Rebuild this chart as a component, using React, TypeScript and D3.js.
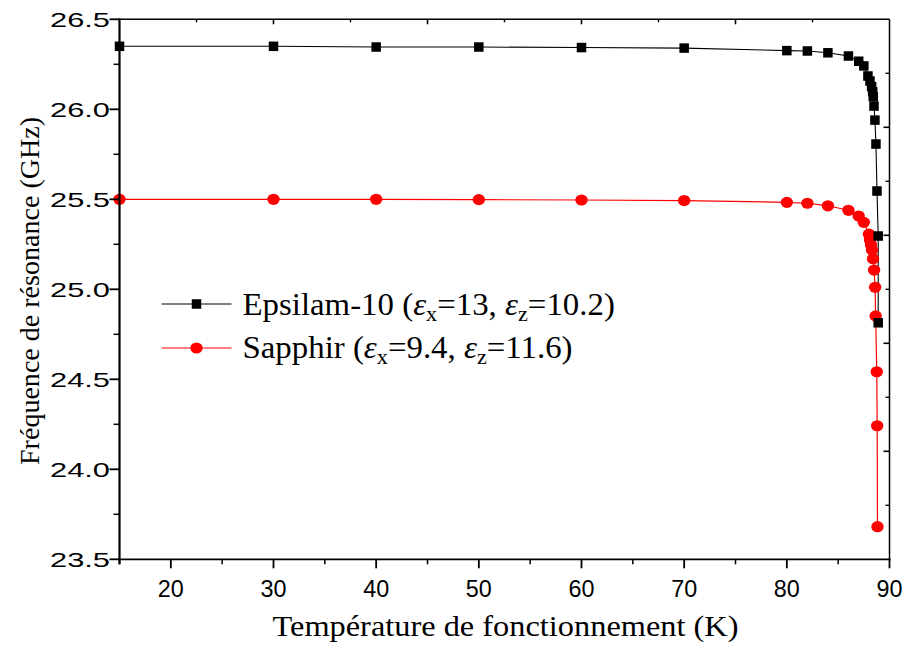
import React from "react";
import * as d3 from "d3";

// Operating temperature (K) and resonance frequency (GHz) for each substrate
const epsilamT = [15, 30, 40, 50, 60, 70, 80, 82, 84, 86, 87, 87.5, 87.9, 88.1, 88.26, 88.36, 88.42, 88.49, 88.58, 88.68, 88.78, 88.9, 88.9];
const epsilamF = [26.35, 26.35, 26.346, 26.346, 26.343, 26.34, 26.326, 26.324, 26.314, 26.296, 26.267, 26.241, 26.185, 26.157, 26.126, 26.098, 26.07, 26.018, 25.94, 25.807, 25.546, 25.296, 24.814];

const sapphirT = [15, 30, 40, 50, 60, 70, 80, 82, 84, 86, 87, 87.5, 88.0, 88.1, 88.2, 88.3, 88.4, 88.5, 88.6, 88.65, 88.76, 88.8, 88.83];
const sapphirF = [25.5, 25.5, 25.5, 25.498, 25.496, 25.493, 25.483, 25.478, 25.464, 25.439, 25.407, 25.372, 25.306, 25.274, 25.246, 25.218, 25.17, 25.107, 25.011, 24.852, 24.542, 24.242, 23.681];

// Axis ticks
const xMajor = [20, 30, 40, 50, 60, 70, 80, 90];
const xMinor = [15, 25, 35, 45, 55, 65, 75, 85];
const yMajor = [23.5, 24.0, 24.5, 25.0, 25.5, 26.0, 26.5];
const yMinor = [23.75, 24.25, 24.75, 25.25, 25.75, 26.25];
const topMajor = [30, 45, 60, 75];
const topMinor = [22.5, 37.5, 52.5, 67.5, 82.5];
const rightMajor = [24.1, 24.7, 25.3, 25.9];
const rightMinor = [23.8, 24.4, 25.0, 25.6, 26.2];

const W = 905;
const H = 646;
const left = 119.5;
const right = 889.5;
const top = 19.3;
const bottom = 559.3;

export default function App() {
  const x = d3.scaleLinear().domain([15, 90]).range([left, right]);
  const y = d3.scaleLinear().domain([23.5, 26.5]).range([bottom, top]);

  const epsilam = epsilamT.map((t, i) => [t, epsilamF[i]] as [number, number]);
  const sapphir = sapphirT.map((t, i) => [t, sapphirF[i]] as [number, number]);
  const line = d3
    .line<[number, number]>()
    .x((d) => x(d[0]))
    .y((d) => y(d[1]));

  const sq = 9.5;
  const sans = "'Liberation Sans', Arial, sans-serif";
  const serif = "'Liberation Serif', 'Times New Roman', serif";

  return (
    <svg
      width={W}
      height={H}
      viewBox={`0 0 ${W} ${H}`}
      style={{ position: "fixed", left: 0, top: 0, background: "#fff" }}
    >
      <rect width={W} height={H} fill="#fff" />

      {/* series lines */}
      <path d={line(sapphir) || ""} fill="none" stroke="#ff0000" strokeWidth={1.2} />
      <path d={line(epsilam) || ""} fill="none" stroke="#000" strokeWidth={1.1} />

      {/* markers */}
      {sapphir.map((d, i) => (
        <ellipse key={`s${i}`} cx={x(d[0])} cy={y(d[1])} rx={6.2} ry={5.6} fill="#ff0000" />
      ))}
      {epsilam.map((d, i) => (
        <rect
          key={`e${i}`}
          x={x(d[0]) - sq / 2}
          y={y(d[1]) - sq / 2}
          width={sq}
          height={sq}
          fill="#000"
        />
      ))}

      {/* frame */}
      <line x1={left} x2={right} y1={top} y2={top} stroke="#000" strokeWidth={1.5} />
      <line x1={right} x2={right} y1={top} y2={bottom} stroke="#000" strokeWidth={1.5} />
      <line x1={left - 1} x2={right + 1} y1={bottom} y2={bottom} stroke="#000" strokeWidth={1.8} />
      <line x1={left} x2={left} y1={top - 1} y2={bottom + 5} stroke="#000" strokeWidth={2.2} />

      {/* bottom axis */}
      {xMajor.map((v) => (
        <g key={`xm${v}`}>
          <line x1={x(v)} x2={x(v)} y1={bottom} y2={bottom + 9} stroke="#000" strokeWidth={1.8} />
          <text
            x={x(v)}
            y={597}
            textAnchor="middle"
            fontFamily={sans}
            fontSize={24}
            textLength={26}
            lengthAdjust="spacingAndGlyphs"
            fill="#000"
          >
            {v}
          </text>
        </g>
      ))}
      {xMinor.map((v) => (
        <line key={`xn${v}`} x1={x(v)} x2={x(v)} y1={bottom} y2={bottom + 5} stroke="#000" strokeWidth={1.5} />
      ))}

      {/* left axis */}
      {yMajor.map((v) => (
        <g key={`ym${v}`}>
          <line x1={left - 10} x2={left} y1={y(v)} y2={y(v)} stroke="#000" strokeWidth={1.8} />
          <text
            x={110}
            y={y(v) + 7.5}
            textAnchor="end"
            fontFamily={sans}
            fontSize={21}
            textLength={60}
            lengthAdjust="spacingAndGlyphs"
            fill="#000"
          >
            {v.toFixed(1)}
          </text>
        </g>
      ))}
      {yMinor.map((v) => (
        <line key={`yn${v}`} x1={left - 6} x2={left} y1={y(v)} y2={y(v)} stroke="#000" strokeWidth={1.5} />
      ))}

      {/* top axis, inward ticks */}
      {topMajor.map((v) => (
        <line key={`tm${v}`} x1={x(v)} x2={x(v)} y1={top} y2={top + 5} stroke="#000" strokeWidth={1.6} />
      ))}
      {topMinor.map((v) => (
        <line key={`tn${v}`} x1={x(v)} x2={x(v)} y1={top} y2={top + 3} stroke="#000" strokeWidth={1.4} />
      ))}

      {/* right axis, inward ticks */}
      {rightMajor.map((v) => (
        <line key={`rm${v}`} x1={right - 6} x2={right} y1={y(v)} y2={y(v)} stroke="#000" strokeWidth={1.6} />
      ))}
      {rightMinor.map((v) => (
        <line key={`rn${v}`} x1={right - 4} x2={right} y1={y(v)} y2={y(v)} stroke="#000" strokeWidth={1.4} />
      ))}

      {/* axis titles */}
      <text
        x={(left + right) / 2 + 1}
        y={636}
        textAnchor="middle"
        fontFamily={serif}
        fontSize={29}
        textLength={466}
        lengthAdjust="spacingAndGlyphs"
        fill="#000"
      >
        Température de fonctionnement (K)
      </text>
      <text
        transform={`translate(39, ${291}) rotate(-90)`}
        textAnchor="middle"
        fontFamily={serif}
        fontSize={28}
        textLength={348}
        lengthAdjust="spacingAndGlyphs"
        fill="#000"
      >
        Fréquence de résonance (GHz)
      </text>

      {/* legend */}
      <line x1={161.5} x2={231.5} y1={304} y2={304} stroke="#000" strokeWidth={1.1} />
      <rect x={196.5 - sq / 2} y={304 - sq / 2} width={sq} height={sq} fill="#000" />
      <g transform="translate(242.5, 315) scale(1.06, 1)">
        <text x={0} y={0} fontFamily={serif} fontSize={31} fill="#000">
          Epsilam-10 (
          <tspan fontStyle="italic">ε</tspan>
          <tspan fontSize={21} dy={6}>x</tspan>
          <tspan dy={-6}>=13, </tspan>
          <tspan fontStyle="italic">ε</tspan>
          <tspan fontSize={21} dy={6}>z</tspan>
          <tspan dy={-6}>=10.2)</tspan>
        </text>
      </g>

      <line x1={161.5} x2={231.5} y1={348} y2={348} stroke="#ff0000" strokeWidth={1.2} />
      <ellipse cx={196.5} cy={348} rx={6.2} ry={5.6} fill="#ff0000" />
      <g transform="translate(242.5, 358) scale(1.06, 1)">
        <text x={0} y={0} fontFamily={serif} fontSize={31} fill="#000">
          Sapphir (
          <tspan fontStyle="italic">ε</tspan>
          <tspan fontSize={21} dy={6}>x</tspan>
          <tspan dy={-6}>=9.4, </tspan>
          <tspan fontStyle="italic">ε</tspan>
          <tspan fontSize={21} dy={6}>z</tspan>
          <tspan dy={-6}>=11.6)</tspan>
        </text>
      </g>
    </svg>
  );
}
